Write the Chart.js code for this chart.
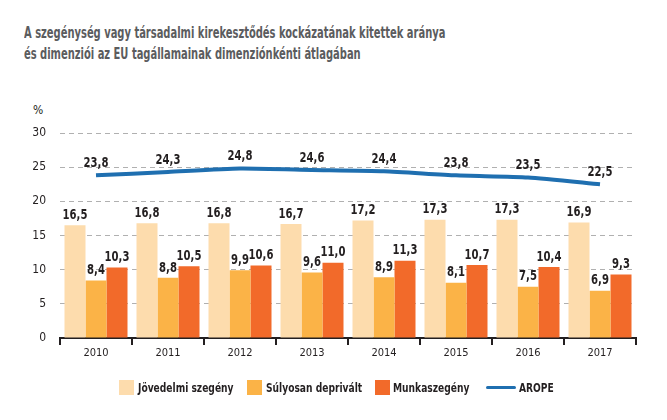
<!DOCTYPE html>
<html lang="hu">
<head>
<meta charset="UTF-8">
<title>AROPE dimenziók</title>
<script src="https://cdn.jsdelivr.net/npm/chart.js"></script>
<style>
  body { margin: 0; width: 667px; height: 420px; background: #fff; position: relative; overflow: hidden;
         font-family: "DejaVu Sans Condensed", "Roboto", sans-serif; }
  .title { position: absolute; left: 24px; top: 22px; font-size: 16px; font-weight: bold; color: #5b5c5e; line-height: 21px;
           white-space: nowrap; transform: scaleX(0.69); transform-origin: left top; }
  .unit { position: absolute; left: 33px; top: 103px; font-size: 12px; color: #231f20; }
  #wrap { position: absolute; left: 0; top: 0; width: 667px; height: 420px; }
  .item { position: absolute; top: 380px; height: 15px; font-size: 13px; font-weight: bold; color: #231f20; white-space: nowrap; }
  .item .box { position: absolute; left: 0; top: 0; width: 15px; height: 15px; }
  .item .ln { position: absolute; left: 0; top: 6px; width: 30px; height: 3px; background: #1f6fb0; border-radius: 2px; }
  .item .t { position: absolute; top: -1px; line-height: 17px; transform: scaleX(0.78); transform-origin: left center; }
</style>
</head>
<body>
<div class="title">A szegénység vagy társadalmi kirekesztődés kockázatának kitettek aránya<br>és dimenziói az EU tagállamainak dimenziónkénti átlagában</div>
<div class="unit">%</div>
<div id="wrap"><canvas id="chart" width="667" height="420"></canvas></div>
<div class="item" style="left:119px"><span class="box" style="background:#fddcad"></span><span class="t" style="left:19px">Jövedelmi szegény</span></div>
<div class="item" style="left:247px"><span class="box" style="background:#fbb347"></span><span class="t" style="left:19px">Súlyosan deprivált</span></div>
<div class="item" style="left:375px"><span class="box" style="background:#f26a2a"></span><span class="t" style="left:18px">Munkaszegény</span></div>
<div class="item" style="left:486px"><span class="ln"></span><span class="t" style="left:33px">AROPE</span></div>
<script>
// adatok
let years = ["2010", "2011", "2012", "2013", "2014", "2015", "2016", "2017"];
let jovedelmi = [16.5, 16.8, 16.8, 16.7, 17.2, 17.3, 17.3, 16.9];
let sulyosan = [8.4, 8.8, 9.9, 9.6, 8.9, 8.1, 7.5, 6.9];
let munka = [10.3, 10.5, 10.6, 11.0, 11.3, 10.7, 10.4, 9.3];
let arope = [23.8, 24.3, 24.8, 24.6, 24.4, 23.8, 23.5, 22.5];
let yTicks = [0, 5, 10, 15, 20, 25, 30];

const fontFam = '"DejaVu Sans Condensed", "Roboto", sans-serif';

// értékcímkék (kicsit összenyomva, mint az eredeti keskeny betű)
const valueLabels = {
  id: "valueLabels",
  afterDatasetsDraw(chart) {
    const c = chart.ctx;
    c.save();
    c.font = "bold 14px " + fontFam;
    c.fillStyle = "#231f20";
    c.textAlign = "center";
    c.textBaseline = "bottom";
    chart.data.datasets.forEach((ds, i) => {
      const meta = chart.getDatasetMeta(i);
      meta.data.forEach((el, j) => {
        const txt = ds.data[j].toFixed(1).replace(".", ",");
        const off = ds.type === "line" ? 5 : 3;
        c.save();
        c.translate(el.x, el.y - off);
        c.scale(0.8, 1);
        c.fillText(txt, 0, 0);
        c.restore();
      });
    });
    c.restore();
  }
};

new Chart(document.getElementById("chart"), {
  type: "bar",
  data: {
    labels: years,
    datasets: [
      { type: "line", label: "AROPE", data: arope, borderColor: "#1f6fb0", borderWidth: 4,
        pointRadius: 0, tension: 0.2, fill: false, order: 0 },
      { label: "Jövedelmi szegény", data: jovedelmi, backgroundColor: "#fddcad", order: 1 },
      { label: "Súlyosan deprivált", data: sulyosan, backgroundColor: "#fbb347", order: 1 },
      { label: "Munkaszegény", data: munka, backgroundColor: "#f26a2a", order: 1 }
    ]
  },
  options: {
    responsive: false,
    animation: false,
    layout: { padding: { top: 133, right: 31, left: 0, bottom: 0 } },
    datasets: { bar: { categoryPercentage: 0.875, barPercentage: 1 } },
    plugins: { legend: { display: false }, tooltip: { enabled: false } },
    scales: {
      x: {
        grid: { drawOnChartArea: false, drawTicks: true, tickLength: 7, color: "#231f20", lineWidth: 2, offset: true },
        border: { color: "#231f20", width: 2 },
        ticks: { color: "#231f20", font: { family: fontFam, size: 11 }, padding: 2 },
        afterFit(s) { s.height = 82; }
      },
      y: {
        min: 0, max: 30,
        afterBuildTicks(s) { s.ticks = yTicks.map(v => ({ value: v })); },
        grid: { color: "#b0b0b0", lineWidth: 1, drawTicks: false },
        border: { display: false, dash: [5, 4] },
        ticks: { color: "#231f20", font: { family: fontFam, size: 12 }, padding: 14 },
        afterFit(s) { s.width = 60; }
      }
    }
  },
  plugins: [valueLabels]
});
</script>
</body>
</html>
